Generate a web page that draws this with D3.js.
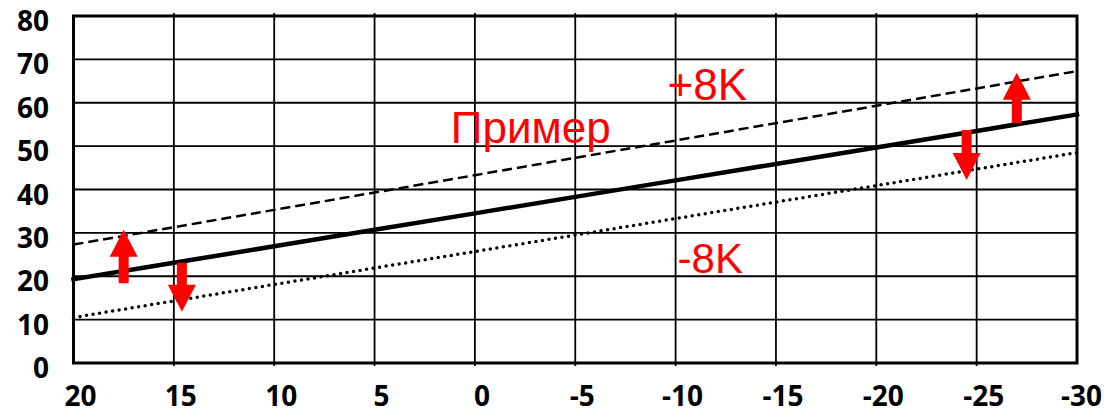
<!DOCTYPE html>
<meta charset="utf-8">
<style>
    body { margin: 0; background: #fff; }
    .tick-label { font-family: "Open Sans", sans-serif; font-weight: 700; font-size: 28px; fill: #000; }
    .note { font-family: "Liberation Sans", Arial, sans-serif; fill: #ff0000; }
</style>
<svg width="1104" height="414"></svg>
<script src="https://cdn.jsdelivr.net/npm/d3@7"></script>
<script>
// temperatures along x (reversed axis, 20 down to -30)
var xTicks = [20, 15, 10, 5, 0, -5, -10, -15, -20, -25, -30];
var xTickLabels = ["20", "15", "10", "5", "0", "-5", "-10", "-15", "-20", "-25", "-30"];
var yTicks = [0, 10, 20, 30, 40, 50, 60, 70, 80];

// one value per x tick
var baseLine  = [19.3, 23.1, 26.9, 30.7, 34.5, 38.3, 42.1, 45.9, 49.7, 53.5, 57.3];
var plusLine  = [27.3, 31.3, 35.3, 39.3, 43.3, 47.3, 51.3, 55.3, 59.3, 63.3, 67.3];
var minusLine = [10.5, 14.3, 18.1, 21.9, 25.7, 29.5, 33.3, 37.1, 40.9, 44.7, 48.5];

// red arrows: x position, start value, end value
var arrows = [
    {x: 17.5, from: 18.4, to: 30.7},
    {x: 14.6, from: 23.1, to: 11.8},
    {x: -27, from: 55.3, to: 66.9},
    {x: -24.5, from: 53.7, to: 42.2}
];

// red labels, anchored at data coords (left / baseline)
var notes = [
    {text: "+8K", x: -9.6, y: 60.6, size: 44},
    {text: "Пример", x: 1.2, y: 50.7, size: 44},
    {text: "-8K", x: -10.1, y: 20.7, size: 42}
];

var width = 1104;
var svg = d3.select("svg");

var x = d3.scaleLinear().domain([20, -30]).range([73.5, 1077]);
var y = d3.scaleLinear().domain([0, 80]).range([363, 16]);

// grid
var grid = svg.append("g");
grid.selectAll("line.h")
    .data(yTicks.slice(1, -1))
    .enter().append("line")
    .attr("x1", x(20)).attr("x2", x(-30))
    .attr("y1", function(d) { return y(d); })
    .attr("y2", function(d) { return y(d); })
    .attr("stroke", "#000").attr("stroke-width", 1.8);
grid.selectAll("line.v")
    .data(xTicks.slice(1, -1))
    .enter().append("line")
    .attr("y1", y(80) - 3).attr("y2", y(0) + 3)
    .attr("x1", function(d) { return x(d); })
    .attr("x2", function(d) { return x(d); })
    .attr("stroke", "#000").attr("stroke-width", 1.8);
svg.append("rect")
    .attr("x", x(20)).attr("y", y(80))
    .attr("width", x(-30) - x(20)).attr("height", y(0) - y(80))
    .attr("fill", "none").attr("stroke", "#000").attr("stroke-width", 3);

// axis labels
svg.append("g").selectAll("text")
    .data(yTicks)
    .enter().append("text")
    .attr("class", "tick-label")
    .attr("x", 49)
    .attr("y", function(d) { return y(d) + 15; })
    .attr("text-anchor", "end")
    .text(function(d) { return d; });

svg.append("g").selectAll("text")
    .data(xTicks)
    .enter().append("text")
    .attr("class", "tick-label")
    .attr("y", 406)
    .attr("text-anchor", "middle")
    .text(function(d, i) { return xTickLabels[i]; })
    .attr("x", function(d) {
        // keep the last label inside the picture
        var w = this.getComputedTextLength();
        return Math.min(x(d) + 7, width - 2 - w / 2);
    });

// lines
var line = d3.line()
    .x(function(d, i) { return x(xTicks[i]); })
    .y(function(d) { return y(d); });

svg.append("path").datum(plusLine)
    .attr("d", line).attr("fill", "none")
    .attr("stroke", "#000").attr("stroke-width", 2.5)
    .attr("stroke-dasharray", "10,5");
svg.append("path").datum(minusLine)
    .attr("d", line).attr("fill", "none")
    .attr("stroke", "#000").attr("stroke-width", 3.5)
    .attr("stroke-linecap", "round")
    .attr("stroke-dasharray", "0,6.6");
svg.append("path").datum(baseLine)
    .attr("d", line).attr("fill", "none")
    .attr("stroke", "#000").attr("stroke-width", 4.5)
    .attr("stroke-linecap", "square");

// arrows
var shaftW = 10, headW = 28, headL = 27;
svg.append("g").selectAll("path")
    .data(arrows)
    .enter().append("path")
    .attr("fill", "#ff0000")
    .attr("d", function(d) {
        var cx = x(d.x), y0 = y(d.from), y1 = y(d.to);
        var dir = y1 < y0 ? 1 : -1;   // 1 = pointing up
        var hb = y1 + dir * headL;
        var p = d3.path();
        p.moveTo(cx - shaftW / 2, y0);
        p.lineTo(cx - shaftW / 2, hb);
        p.lineTo(cx - headW / 2, hb);
        p.lineTo(cx, y1);
        p.lineTo(cx + headW / 2, hb);
        p.lineTo(cx + shaftW / 2, hb);
        p.lineTo(cx + shaftW / 2, y0);
        p.closePath();
        return p.toString();
    });

// notes
svg.append("g").selectAll("text")
    .data(notes)
    .enter().append("text")
    .attr("class", "note")
    .attr("x", function(d) { return x(d.x); })
    .attr("y", function(d) { return y(d.y); })
    .style("font-size", function(d) { return d.size + "px"; })
    .text(function(d) { return d.text; });
</script>
